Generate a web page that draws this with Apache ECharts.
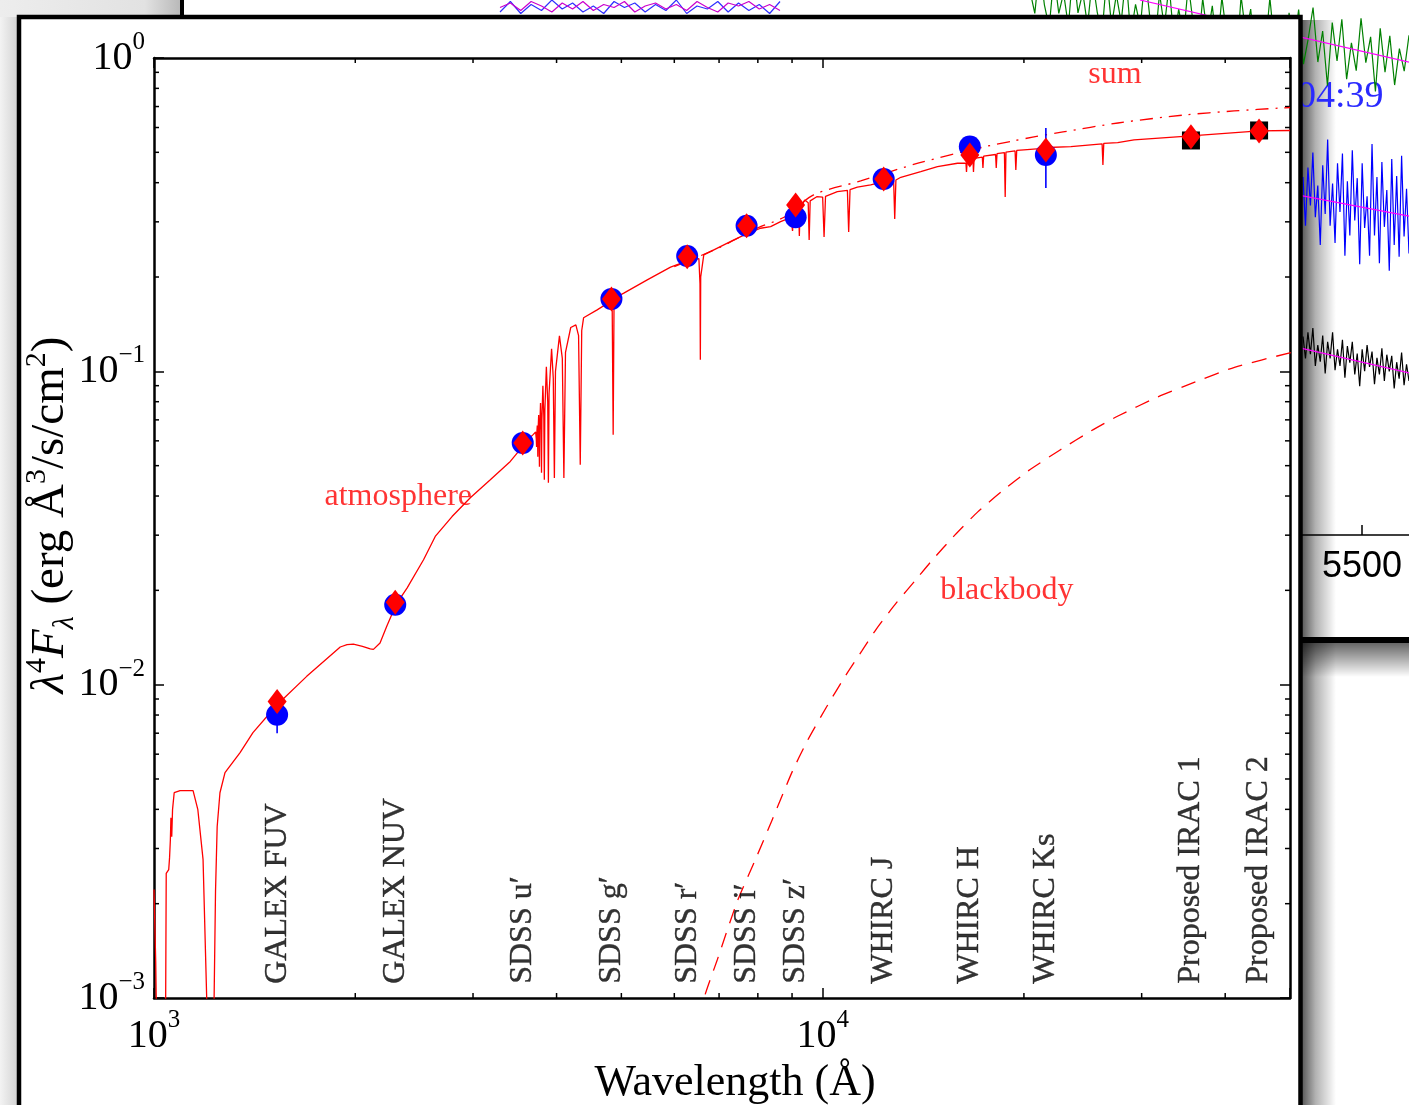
<!DOCTYPE html>
<html>
<head>
<meta charset="utf-8">
<title>SED</title>
<script src="https://cdn.jsdelivr.net/npm/echarts@6.0.0/dist/echarts.min.js"></script>
<style>
  html, body { margin: 0; padding: 0; background: #fff; }
  #chart { width: 1409px; height: 1105px; }
</style>
</head>
<body>
<div id="chart"></div>
<script>
const SERIF = '"Liberation Serif", "Times New Roman", serif';
const SANS = '"Liberation Sans", Arial, sans-serif';
const RED = '#ff0000';

const X_MIN = 1000, X_MAX = 50000, Y_MIN = 0.001, Y_MAX = 1;
const BAND_LABEL_FLUX = 0.00111;

// photometric bands
const bandNames = ['GALEX FUV', 'GALEX NUV', 'SDSS u′', 'SDSS g′', 'SDSS r′', 'SDSS i′', 'SDSS z′',
  'WHIRC J', 'WHIRC H', 'WHIRC Ks', 'Proposed IRAC 1', 'Proposed IRAC 2'];
const bandWave = [1528, 2295, 3560, 4832, 6272, 7696, 9112, 12340, 16600, 21570, 35550, 44950];
const observedFlux = [0.00802, 0.0180, 0.0591, 0.1703, 0.2335, 0.2917, 0.3104, 0.4112, 0.5215, 0.4904];
const modelFlux = [0.00884, 0.01834, 0.0591, 0.1703, 0.232, 0.2917, 0.3397, 0.4112, 0.4904, 0.5087, 0.561, 0.585];
const proposedWave = [35550, 44950];
const proposedFlux = [0.5455, 0.5871];
const errorBars = [[1528, 0.0070, 0.0092], [21570, 0.385, 0.598]];

// model atmosphere (lambda, lambda^4 F_lambda)
const atmosphereModel = [
  [1000, 0.00222], [1006, 0.0013], [1012, 0.0005], [1026, 0.0002], [1038, 0.0005], [1041, 0.0010],
  [1043, 0.0025], [1052, 0.00257], [1055, 0.0028], [1058, 0.0032], [1060, 0.00376], [1063, 0.00327],
  [1066, 0.0040], [1072, 0.00452], [1094, 0.00459], [1144, 0.00459], [1163, 0.00399], [1184, 0.00277],
  [1194, 0.0014], [1199, 0.0010], [1216, 0.0002], [1230, 0.0010], [1236, 0.0022], [1243, 0.00352],
  [1255, 0.00452], [1277, 0.00524], [1345, 0.00607], [1406, 0.00703], [1528, 0.00863], [1692, 0.01063],
  [1899, 0.01319], [1944, 0.01342], [1987, 0.01347], [2050, 0.01325], [2106, 0.0130], [2129, 0.01296],
  [2178, 0.01358], [2229, 0.01535], [2301, 0.0180], [2390, 0.02034], [2530, 0.02505], [2634, 0.02972],
  [2791, 0.0344], [2972, 0.0395], [3184, 0.04507], [3411, 0.05157], [3560, 0.0576], [3620, 0.0605],
  [3690, 0.0628], [3722, 0.0640], [3730, 0.0610], [3734, 0.0574], [3738, 0.0640], [3743, 0.0672],
  [3748, 0.0600], [3750, 0.0534], [3753, 0.0640], [3761, 0.0726], [3767, 0.0620], [3771, 0.0496],
  [3775, 0.0650], [3785, 0.0793], [3793, 0.0650], [3798, 0.04745], [3803, 0.0700], [3816, 0.0899],
  [3828, 0.0720], [3835, 0.0451], [3842, 0.0750], [3862, 0.1034], [3880, 0.0800], [3889, 0.0441],
  [3898, 0.0850], [3932, 0.1180], [3955, 0.0950], [3970, 0.0457], [3985, 0.1000], [4040, 0.1298],
  [4080, 0.1100], [4102, 0.0457], [4125, 0.1150], [4200, 0.1380], [4275, 0.1407], [4315, 0.1300],
  [4340, 0.0503], [4362, 0.1350], [4390, 0.1482], [4600, 0.1571], [4815, 0.1670], [4845, 0.1560],
  [4861, 0.0627], [4875, 0.1600], [4900, 0.1720], [5042, 0.1776], [5466, 0.1958], [5923, 0.2150],
  [6274, 0.2252], [6530, 0.2290], [6555, 0.1900], [6563, 0.1088], [6571, 0.2000], [6641, 0.2352],
  [6875, 0.2441], [7366, 0.2627], [7696, 0.2746], [8076, 0.2862], [8360, 0.2897], [8652, 0.3005],
  [8860, 0.3065], [8980, 0.305], [9015, 0.2807], [9050, 0.312], [9150, 0.325], [9210, 0.318],
  [9229, 0.2705], [9255, 0.330], [9400, 0.3524], [9515, 0.345], [9546, 0.2627], [9580, 0.350],
  [9800, 0.3609], [10000, 0.360], [10049, 0.2685], [10100, 0.362], [10520, 0.3747], [10890, 0.378],
  [10938, 0.2786], [10990, 0.380], [11270, 0.387], [11800, 0.3935], [12340, 0.4031], [12770, 0.405],
  [12818, 0.3065], [12870, 0.408], [13090, 0.4163], [14020, 0.4339], [14850, 0.45], [15910, 0.4614],
  [16380, 0.462], [16411, 0.4329], [16450, 0.468], [16780, 0.475], [16811, 0.4329], [16850, 0.478],
  [17330, 0.483], [17367, 0.4458], [17410, 0.486], [18140, 0.492], [18181, 0.4458], [18230, 0.495],
  [18700, 0.499], [18751, 0.3602], [18800, 0.501], [19400, 0.505], [19451, 0.4393], [19510, 0.507],
  [20000, 0.5091], [21600, 0.516], [21661, 0.4557], [21720, 0.518], [23510, 0.5216], [26180, 0.532],
  [26252, 0.4557], [26330, 0.534], [27620, 0.537], [29220, 0.5478], [35550, 0.5641], [44950, 0.585],
  [50000, 0.587]
];

const blackbodyModel = [
  [6300, 0.0006], [6649, 0.001], [6962, 0.00133], [7450, 0.00203], [7912, 0.00273], [8404, 0.0037],
  [8986, 0.00522], [9480, 0.0066], [10139, 0.0085], [10825, 0.0107], [11440, 0.0128], [12044, 0.0151],
  [12905, 0.0183], [13783, 0.0216], [14545, 0.0248], [15763, 0.0300], [17061, 0.0356], [18510, 0.0413],
  [20320, 0.0482], [22620, 0.0560], [25190, 0.0645], [27650, 0.0720], [31620, 0.0826], [36140, 0.0926],
  [41300, 0.1030], [50150, 0.1148]
];

const sumModel = [
  [6000, 0.216], [7000, 0.248], [8000, 0.287], [8800, 0.312], [9694, 0.3656], [11400, 0.4052],
  [13930, 0.4624], [17420, 0.5201], [19250, 0.5435], [20700, 0.5598], [22880, 0.5807], [27650, 0.6203],
  [34700, 0.6577], [41240, 0.6776], [48480, 0.6925], [50000, 0.695]
];

const annotationText = ['atmosphere', 'blackbody', 'sum'];
const annotationAt = [[2319, 0.0398], [18860, 0.01995], [27360, 0.8827]];

const xMinorTicks = [2000, 3000, 4000, 5000, 6000, 7000, 8000, 9000, 20000, 30000, 40000];
const yMinorTicks = [0.002, 0.003, 0.004, 0.005, 0.006, 0.007, 0.008, 0.009,
  0.02, 0.03, 0.04, 0.05, 0.06, 0.07, 0.08, 0.09, 0.2, 0.3, 0.4, 0.5, 0.6, 0.7, 0.8, 0.9];

// spectra of the window behind
const greenNoise = [10.17, 9.75, 10.63, 9.91, 9.49, 10.47, 9.75, 10.13, 9.51, 10.59, 9.76, 10.14, 9.52, 10.40,
  9.78, 9.36, 10.44, 9.52, 10.10, 9.58, 10.46, 9.34, 9.92, 9.50, 10.48, 9.66, 9.14, 10.12, 9.50, 10.28,
  9.25, 9.83, 9.31, 10.29, 9.57, 9.05, 10.03, 9.31, 9.89, 9.07, 10.05, 9.33, 9.71, 8.79, 10.07, 9.35,
  9.83, 8.91, 9.69, 9.07, 10.04, 9.12, 9.50, 8.68, 9.76, 9.14, 9.82, 8.80, 9.28, 9.86, 8.84, 9.42,
  8.40, 9.58, 8.86, 9.64, 8.52, 9.20, 8.68, 9.66, 8.83, 9.31, 8.29, 9.47, 8.65, 9.33, 8.41, 9.09, 8.67, 9.34];
const blueNoise = [6.69, 5.78, 6.87, 6.16, 7.15, 5.94, 6.53, 5.42, 6.91, 6.00, 7.39, 5.78, 6.57, 5.46, 6.95,
  6.04, 7.13, 5.22, 6.61, 5.60, 7.19, 5.88, 6.67, 5.06, 6.95, 5.74, 6.33, 5.22, 7.31, 5.60, 6.69, 5.08,
  6.97, 5.76, 6.45, 4.94, 7.03, 5.42, 6.71, 5.20, 7.09, 5.58, 6.47, 5.26];
const blackNoise = [3.71, 3.30, 3.79, 3.38, 3.87, 3.16, 3.55, 3.24, 3.73, 3.02, 3.61, 3.30, 3.79, 3.08, 3.47,
  3.16, 3.65, 2.94, 3.53, 3.22, 3.61, 3.00, 3.39, 2.78, 3.47, 3.06, 3.55, 3.14, 3.43, 2.82, 3.31, 3.00,
  3.49, 2.88, 3.37, 3.06, 3.35, 2.74, 3.23, 2.92, 3.41, 2.80, 3.19, 2.88];
const stripBlue = [0.2, 0.9, 0.1, 0.7, 0.3, 1.0, 0.4, 0.8, 0.2, 0.6, 0.1, 0.9, 0.5, 0.8, 0.2, 0.7,
  0.3, 1.0, 0.1, 0.6, 0.4, 0.9, 0.2, 0.8, 0.3, 0.7, 0.1, 0.9];
const stripMagenta = [0.5, 0.8, 0.3, 0.9, 0.6, 0.2, 0.8, 0.4, 0.9, 0.3, 0.7, 0.5, 0.9, 0.2, 0.6, 0.8,
  0.4, 0.7, 0.3, 0.9, 0.5, 0.2, 0.8, 0.6, 0.9, 0.4, 0.7, 0.3];
const magentaFits = [
  [[5010.9, 10.0], [5603.6, 8.84]],
  [[5300, 6.45], [5603.6, 5.96]],
  [[5300, 3.62], [5603.6, 3.03]]
];

function powerLabel(v) {
  const e = Math.round(Math.log10(v));
  if (Math.abs(v / Math.pow(10, e) - 1) > 1e-6) return '';
  return '{b|10}{s|' + (e < 0 ? '\u2212' + (-e) : e) + '}';
}
const powerRich = {
  b: { fontSize: 40, lineHeight: 56, verticalAlign: 'middle', fontFamily: SERIF, color: '#000' },
  s: { fontSize: 25, lineHeight: 24, verticalAlign: 'top', fontFamily: SERIF, color: '#000' }
};

function mainAxis(position, min, max, withLabels, margin) {
  return {
    type: 'log', logBase: 10, gridIndex: 0, position: position, min: min, max: max, z: 10,
    axisLine: { show: true, onZero: false, lineStyle: { color: '#000', width: 2.5 } },
    axisTick: { show: true, inside: true, length: 10, lineStyle: { color: '#000', width: 1.5 } },
    axisLabel: withLabels
      ? { show: true, formatter: powerLabel, rich: powerRich, margin: margin, color: '#000' }
      : { show: false },
    splitLine: { show: false },
    minorTick: { show: false }
  };
}

function hiddenCategory(gridIndex, values) {
  return { type: 'category', gridIndex: gridIndex, boundaryGap: false, show: false, data: values.map((_, i) => i) };
}

function noiseLine(axisIndex, values, color) {
  return {
    type: 'line', xAxisIndex: axisIndex, yAxisIndex: axisIndex, z: 1, silent: true, symbol: 'none',
    clip: true, data: values, lineStyle: { color: color, width: 1.2 }
  };
}

const tickStyle = { stroke: '#000', lineWidth: 1.5 };

const chart = echarts.init(document.getElementById('chart'));

chart.setOption({
  animation: false,
  backgroundColor: '#ffffff',
  textStyle: { fontFamily: SERIF },
  grid: [
    { left: 154, top: 58, width: 1136, height: 940, outerBoundsMode: 'none' },
    { left: 908, top: 0, width: 501, height: 535, outerBoundsMode: 'none' },
    { left: 1030, top: 0, width: 379, height: 535, outerBoundsMode: 'none' },
    { left: 1303, top: 0, width: 106, height: 535, outerBoundsMode: 'none' },
    { left: 500, top: 0, width: 280, height: 15, outerBoundsMode: 'none' }
  ],
  xAxis: [
    mainAxis('bottom', X_MIN, X_MAX, true, 10),
    mainAxis('top', X_MIN, X_MAX, false, 0),
    {
      type: 'value', gridIndex: 1, min: 4500, max: 5603.6, interval: 500, position: 'bottom', z: 1,
      axisLine: { lineStyle: { color: '#000', width: 1.5 } },
      axisTick: { inside: true, length: 10, lineStyle: { color: '#000', width: 1.5 } },
      axisLabel: {
        fontFamily: SANS, fontSize: 36, color: '#000', margin: 14, showMaxLabel: false,
        formatter: (v) => (v % 500 === 0 ? String(v) : '')
      },
      splitLine: { show: false }
    },
    hiddenCategory(2, greenNoise),
    hiddenCategory(3, blueNoise),
    hiddenCategory(4, stripBlue)
  ],
  yAxis: [
    mainAxis('left', Y_MIN, Y_MAX, true, 9),
    mainAxis('right', Y_MIN, Y_MAX, false, 0),
    { type: 'value', gridIndex: 1, min: 0, max: 10, show: false },
    { type: 'value', gridIndex: 2, min: 0, max: 10, show: false },
    { type: 'value', gridIndex: 3, min: 0, max: 10, show: false },
    { type: 'value', gridIndex: 4, min: 0, max: 1, show: false }
  ],
  graphic: [
    {
      type: 'rect', silent: true, z: -10, shape: { x: 0, y: 0, width: 20, height: 1105 },
      style: { fill: new echarts.graphic.LinearGradient(0, 0, 1, 0, [
        { offset: 0, color: '#f3f3f3' }, { offset: 1, color: '#cfcfcf' }]) }
    },
    {
      type: 'rect', silent: true, z: -10, shape: { x: 0, y: 0, width: 181, height: 17 },
      style: { fill: new echarts.graphic.LinearGradient(0, 0, 1, 0, [
        { offset: 0, color: '#ededed' }, { offset: 0.8, color: '#e2e2e2' }, { offset: 1, color: '#b8b8b8' }]) }
    },
    { type: 'rect', silent: true, z: 50, shape: { x: 184, y: 0, width: 315, height: 4 }, style: { fill: '#ffffff' } },
    { type: 'rect', silent: true, z: 50, shape: { x: 781, y: 0, width: 248, height: 4 }, style: { fill: '#ffffff' } },
    { type: 'rect', silent: true, z: 0.6, shape: { x: 180, y: 0, width: 4, height: 17 }, style: { fill: '#000' } },
    { type: 'rect', silent: true, z: 0, shape: { x: 1290, y: 637, width: 119, height: 6 }, style: { fill: '#000' } },
    {
      type: 'rect', silent: true, z: 0, shape: { x: 1290, y: 643, width: 119, height: 34 },
      style: { fill: new echarts.graphic.LinearGradient(0, 0, 0, 1, [
        { offset: 0, color: 'rgba(0,0,0,0.6)' }, { offset: 1, color: 'rgba(0,0,0,0)' }]) }
    },
    {
      type: 'rect', silent: true, z: 0, shape: { x: 1302, y: 20, width: 34, height: 1085 },
      style: { fill: new echarts.graphic.LinearGradient(0, 0, 1, 0, [
        { offset: 0, color: 'rgba(0,0,0,0.65)' }, { offset: 0.4, color: 'rgba(0,0,0,0.3)' },
        { offset: 1, color: 'rgba(0,0,0,0)' }]) }
    },
    {
      type: 'text', silent: true, z: 0, x: 1297, y: 97,
      style: { text: '04:39', fontSize: 38, fontFamily: SERIF, fill: '#2a2aff', verticalAlign: 'middle' }
    },
    {
      type: 'rect', silent: true, z: 5, shape: { x: 19, y: 17, width: 1281.5, height: 1100 },
      style: { fill: '#ffffff', stroke: '#000000', lineWidth: 4.5 }
    },
    {
      type: 'text', silent: true, z: 20, x: 735, y: 1083,
      style: { text: 'Wavelength (Å)', fontSize: 44, fontFamily: SERIF, fill: '#000',
        align: 'center', verticalAlign: 'middle' }
    },
    {
      type: 'text', silent: true, z: 20, x: 51, y: 515, rotation: Math.PI / 2,
      style: {
        text: '{i|λ}{sup|4}{i|F}{sub|λ}{n| (erg Å}{sup|3}{n|/s/cm}{sup|2}{n|)}',
        align: 'center', verticalAlign: 'middle',
        rich: {
          i: { fontSize: 47, fontStyle: 'italic', lineHeight: 58, fontFamily: SERIF, fill: '#000' },
          n: { fontSize: 47, lineHeight: 58, fontFamily: SERIF, fill: '#000' },
          sup: { fontSize: 30, lineHeight: 32, verticalAlign: 'top', fontFamily: SERIF, fill: '#000' },
          sub: { fontSize: 30, lineHeight: 42, verticalAlign: 'bottom', fontStyle: 'italic', fontFamily: SERIF, fill: '#000' }
        }
      }
    }
  ],
  series: [
    // background window spectra
    noiseLine(3, greenNoise, '#008000'),
    noiseLine(4, blueNoise, '#0000ff'),
    noiseLine(4, blackNoise, '#000000'),
    noiseLine(5, stripBlue, '#3030ff'),
    noiseLine(5, stripMagenta, '#cc00cc'),
    ...magentaFits.map((fit) => ({
      type: 'line', xAxisIndex: 2, yAxisIndex: 2, z: 1, silent: true, symbol: 'none', clip: true,
      data: fit, lineStyle: { color: '#ff00ff', width: 1.2 }
    })),

    // main SED panel
    {
      name: 'atmosphere', type: 'line', xAxisIndex: 0, yAxisIndex: 0, z: 10, silent: true,
      symbol: 'none', clip: true, data: atmosphereModel, lineStyle: { color: RED, width: 1.3 }
    },
    {
      name: 'blackbody', type: 'line', xAxisIndex: 0, yAxisIndex: 0, z: 10, silent: true,
      symbol: 'none', clip: true, smooth: 0.2, data: blackbodyModel,
      lineStyle: { color: RED, width: 1.3, type: [15, 10] }
    },
    {
      name: 'sum', type: 'line', xAxisIndex: 0, yAxisIndex: 0, z: 10, silent: true,
      symbol: 'none', clip: true, smooth: 0.3, data: sumModel,
      lineStyle: { color: RED, width: 1.3, type: [13, 7, 2, 7] }
    },
    {
      name: 'errors', type: 'custom', xAxisIndex: 0, yAxisIndex: 0, z: 11, silent: true,
      data: errorBars,
      renderItem: (params, api) => {
        const lo = api.coord([api.value(0), api.value(1)]);
        const hi = api.coord([api.value(0), api.value(2)]);
        return { type: 'line', shape: { x1: lo[0], y1: lo[1], x2: hi[0], y2: hi[1] },
          style: { stroke: '#0000ff', lineWidth: 1.6 } };
      }
    },
    {
      name: 'observed', type: 'scatter', xAxisIndex: 0, yAxisIndex: 0, z: 12, silent: true,
      symbol: 'circle', symbolSize: 22, itemStyle: { color: '#0000ff', opacity: 1 },
      data: observedFlux.map((f, i) => [bandWave[i], f])
    },
    {
      name: 'proposed', type: 'scatter', xAxisIndex: 0, yAxisIndex: 0, z: 12, silent: true,
      symbol: 'rect', symbolSize: 18, itemStyle: { color: '#000000', opacity: 1 },
      data: proposedFlux.map((f, i) => [proposedWave[i], f])
    },
    {
      name: 'model', type: 'scatter', xAxisIndex: 0, yAxisIndex: 0, z: 13, silent: true,
      symbol: 'diamond', symbolSize: [19, 25], itemStyle: { color: RED, opacity: 1 },
      data: modelFlux.map((f, i) => [bandWave[i], f])
    },
    {
      name: 'minorX', type: 'custom', xAxisIndex: 0, yAxisIndex: 0, z: 10, silent: true,
      data: xMinorTicks.map((v) => [v, Y_MIN]),
      renderItem: (params, api) => {
        const b = api.coord([api.value(0), Y_MIN]);
        const t = api.coord([api.value(0), Y_MAX]);
        return { type: 'group', children: [
          { type: 'line', shape: { x1: b[0], y1: b[1], x2: b[0], y2: b[1] - 5 }, style: tickStyle },
          { type: 'line', shape: { x1: t[0], y1: t[1], x2: t[0], y2: t[1] + 5 }, style: tickStyle }
        ] };
      }
    },
    {
      name: 'minorY', type: 'custom', xAxisIndex: 0, yAxisIndex: 0, z: 10, silent: true,
      data: yMinorTicks.map((v) => [X_MIN, v]),
      renderItem: (params, api) => {
        const l = api.coord([X_MIN, api.value(1)]);
        const r = api.coord([X_MAX, api.value(1)]);
        return { type: 'group', children: [
          { type: 'line', shape: { x1: l[0], y1: l[1], x2: l[0] + 5, y2: l[1] }, style: tickStyle },
          { type: 'line', shape: { x1: r[0], y1: r[1], x2: r[0] - 5, y2: r[1] }, style: tickStyle }
        ] };
      }
    },
    {
      name: 'bands', type: 'scatter', xAxisIndex: 0, yAxisIndex: 0, z: 14, silent: true,
      symbolSize: 1, itemStyle: { color: 'rgba(0,0,0,0)' },
      data: bandWave.map((w, i) => ({ name: bandNames[i], value: [w, BAND_LABEL_FLUX] })),
      label: {
        show: true, position: 'inside', formatter: '{b}', rotate: 90, align: 'left', verticalAlign: 'middle',
        fontSize: 32, fontFamily: SERIF, color: '#000', textBorderColor: '#000', textBorderWidth: 0.4
      }
    },
    {
      name: 'annotations', type: 'scatter', xAxisIndex: 0, yAxisIndex: 0, z: 14, silent: true,
      symbolSize: 1, itemStyle: { color: 'rgba(0,0,0,0)' },
      data: annotationText.map((t, i) => ({ name: t, value: annotationAt[i] })),
      label: {
        show: true, position: 'inside', formatter: '{b}', align: 'center', verticalAlign: 'middle',
        fontSize: 32, fontFamily: SERIF, color: RED
      }
    }
  ]
});
</script>
</body>
</html>
